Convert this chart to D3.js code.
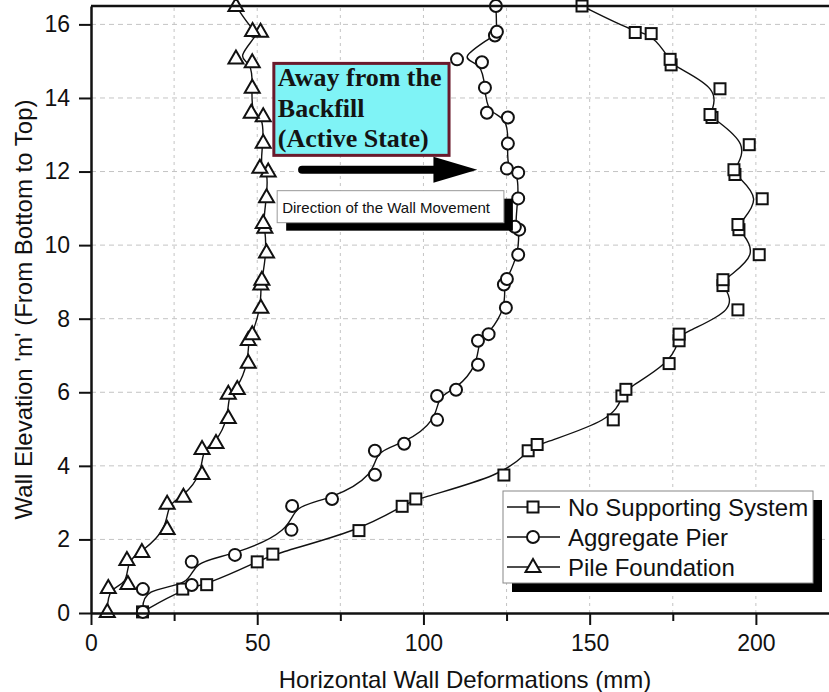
<!DOCTYPE html>
<html>
<head>
<meta charset="utf-8">
<script src="https://cdn.jsdelivr.net/npm/d3@7"></script>
<style>
  body { margin: 0; background: #fff; }
  svg { display: block; }
</style>
</head>
<body>
<div id="chart"></div>
<script>
// deformation (mm) and elevation (m) for each series
var noSupportX = [15.5, 27.6, 34.8, 50.0, 54.7, 80.6, 93.6, 97.7, 124.2, 131.5, 134.2, 157.1, 159.7, 160.9, 173.9, 176.9, 176.9, 194.6, 190.1, 190.1, 201.0, 194.9, 194.6, 201.9, 193.7, 193.4, 198.0, 186.8, 186.2, 189.2, 174.5, 174.2, 168.5, 163.7, 147.7];
var noSupportY = [0.03, 0.65, 0.77, 1.39, 1.6, 2.24, 2.9, 3.1, 3.75, 4.41, 4.58, 5.25, 5.9, 6.08, 6.78, 7.4, 7.58, 8.24, 8.9, 9.06, 9.74, 10.42, 10.56, 11.26, 11.92, 12.05, 12.73, 13.47, 13.55, 14.25, 14.9, 15.05, 15.75, 15.78, 16.5];

var pierX = [15.6, 15.6, 30.3, 30.3, 43.3, 60.3, 60.5, 72.5, 85.4, 85.4, 94.2, 104.1, 104.1, 109.8, 116.4, 116.4, 119.6, 124.8, 124.2, 125.1, 128.5, 128.8, 127.5, 128.5, 128.5, 125.1, 125.4, 125.4, 119.1, 118.5, 117.6, 110.1, 121.5, 122.1, 121.8];
var pierY = [0.03, 0.65, 0.76, 1.39, 1.58, 2.26, 2.91, 3.1, 3.76, 4.41, 4.6, 5.25, 5.9, 6.07, 6.75, 7.4, 7.58, 8.3, 8.93, 9.08, 9.74, 10.42, 10.5, 11.27, 11.97, 12.08, 12.76, 13.47, 13.6, 14.28, 14.97, 15.05, 15.7, 15.8, 16.5];

var pileX = [4.9, 5.2, 11.1, 10.8, 15.3, 22.9, 22.9, 27.8, 33.4, 33.4, 37.6, 41.3, 41.3, 44.0, 47.3, 47.3, 48.5, 51.1, 51.1, 51.4, 52.8, 52.3, 51.8, 52.8, 53.3, 50.8, 51.8, 51.8, 48.2, 48.5, 48.5, 43.6, 51.0, 48.6, 43.6];
var pileY = [0.03, 0.68, 0.79, 1.44, 1.66, 2.28, 2.97, 3.16, 3.78, 4.46, 4.62, 5.3, 5.96, 6.09, 6.8, 7.42, 7.58, 8.3, 8.93, 9.06, 9.8, 10.47, 10.6, 11.3, 12.0, 12.1, 12.78, 13.5, 13.6, 14.28, 14.97, 15.07, 15.8, 15.82, 16.5];

var seriesNames = ["No Supporting System", "Aggregate Pier", "Pile Foundation"];
var xTicks = [0, 50, 100, 150, 200];
var xMinorTicks = [25, 75, 125, 175, 225];
var yTicks = [0, 2, 4, 6, 8, 10, 12, 14, 16];

var W = 829, H = 692;
var margin = {left: 91, top: 6, right: -10, bottom: 79};
var sans = "Arial, 'Liberation Sans', sans-serif";

var svg = d3.select("#chart").append("svg")
    .attr("width", W)
    .attr("height", H);

var x = d3.scaleLinear().domain([0, 225]).range([margin.left, W - margin.right]);
var y = d3.scaleLinear().domain([0, 16.5]).range([H - margin.bottom, margin.top]);

// grid
svg.append("g").selectAll("line")
    .data(xMinorTicks.concat(xTicks).filter(function(d){ return d > 0 && d < 225; }))
    .enter().append("line")
    .attr("x1", function(d){ return x(d); })
    .attr("x2", function(d){ return x(d); })
    .attr("y1", y(0)).attr("y2", y(16.5))
    .attr("stroke", "#c4c4c4")
    .attr("stroke-width", 1)
    .attr("stroke-dasharray", "3,4");
svg.append("g").selectAll("line")
    .data(yTicks.filter(function(d){ return d > 0; }))
    .enter().append("line")
    .attr("x1", x(0)).attr("x2", x(225))
    .attr("y1", function(d){ return y(d); })
    .attr("y2", function(d){ return y(d); })
    .attr("stroke", "#c4c4c4")
    .attr("stroke-width", 1)
    .attr("stroke-dasharray", "5,4");

// series
var series = [
  {name: seriesNames[0], xs: noSupportX, ys: noSupportY, shape: "square"},
  {name: seriesNames[1], xs: pierX, ys: pierY, shape: "circle"},
  {name: seriesNames[2], xs: pileX, ys: pileY, shape: "triangle"}
];

var line = d3.line()
    .x(function(d){ return x(d[0]); })
    .y(function(d){ return y(d[1]); })
    .curve(d3.curveBasis);

function drawMarker(g, shape) {
  if (shape == "square") {
    g.append("rect").attr("x", -5.5).attr("y", -5.5).attr("width", 11).attr("height", 11);
  } else if (shape == "circle") {
    g.append("circle").attr("r", 6);
  } else {
    g.append("path").attr("d", "M0,-8 L7.5,5 L-7.5,5 Z");
  }
  g.selectAll("*")
    .attr("fill", "#fff")
    .attr("stroke", "#111")
    .attr("stroke-width", 2);
}

series.forEach(function(s){
  var pts = s.xs.map(function(v, i){ return [v, s.ys[i]]; });
  svg.append("path")
    .datum(pts)
    .attr("d", line)
    .attr("fill", "none")
    .attr("stroke", "#111")
    .attr("stroke-width", 1.4);
  svg.append("g").selectAll("g")
    .data(pts)
    .enter().append("g")
    .attr("transform", function(d){ return "translate(" + x(d[0]) + "," + y(d[1]) + ")"; })
    .each(function(){ drawMarker(d3.select(this), s.shape); });
});

// axes
var xAxis = svg.append("g")
    .attr("transform", "translate(0," + y(0) + ")")
    .call(d3.axisBottom(x).tickValues(xTicks).tickSize(12).tickPadding(10).tickSizeOuter(0));
svg.append("g")
    .attr("transform", "translate(0," + y(0) + ")")
    .call(d3.axisBottom(x).tickValues(xMinorTicks).tickSize(8).tickFormat("").tickSizeOuter(0))
    .select(".domain").remove();
var yAxis = svg.append("g")
    .attr("transform", "translate(" + x(0) + ",0)")
    .call(d3.axisLeft(y).tickValues(yTicks).tickSize(12).tickPadding(9).tickSizeOuter(0));

svg.selectAll(".domain").attr("stroke", "#111").attr("stroke-width", 2.5);
svg.selectAll(".tick line").attr("stroke", "#111").attr("stroke-width", 2);
svg.selectAll(".tick text").attr("font-family", sans).attr("font-size", 23).attr("fill", "#111");

// top frame
svg.append("line")
    .attr("x1", x(0)).attr("x2", x(225))
    .attr("y1", y(16.5)).attr("y2", y(16.5))
    .attr("stroke", "#111").attr("stroke-width", 2.5);

// axis titles
svg.append("text")
    .attr("x", (x(0) + x(225)) / 2)
    .attr("y", 688)
    .attr("text-anchor", "middle")
    .attr("font-family", sans).attr("font-size", 24).attr("fill", "#111")
    .text("Horizontal Wall Deformations (mm)");
svg.append("text")
    .attr("transform", "translate(32," + y(8.25) + ") rotate(-90)")
    .attr("text-anchor", "middle")
    .attr("font-family", sans).attr("font-size", 24).attr("fill", "#111")
    .text("Wall Elevation 'm' (From Bottom to Top)");

// annotation box
var bx = x(55), by = y(14.94), bw = x(107.7) - x(55), bh = y(12.44) - y(14.94);
svg.append("rect")
    .attr("x", bx).attr("y", by).attr("width", bw).attr("height", bh)
    .attr("fill", "#7ff3f6").attr("stroke", "#6a1a2c").attr("stroke-width", 3);
var noteLines = ["Away from the", "Backfill", "(Active State)"];
svg.append("g").selectAll("text")
    .data(noteLines)
    .enter().append("text")
    .attr("x", bx + 4)
    .attr("y", function(d, i){ return by + 23 + i * 30.5; })
    .attr("font-family", "'Times New Roman', 'Liberation Serif', serif")
    .attr("font-weight", "bold")
    .attr("font-size", 26)
    .attr("fill", "#141414")
    .text(function(d){ return d; });

// arrow
var ay = y(12.05);
svg.append("line")
    .attr("x1", x(63.5)).attr("x2", x(104))
    .attr("y1", ay).attr("y2", ay)
    .attr("stroke", "#000").attr("stroke-width", 8).attr("stroke-linecap", "round");
svg.append("path")
    .attr("d", "M" + x(103) + "," + (ay - 13) + " L" + x(116.2) + "," + ay + " L" + x(103) + "," + (ay + 13) + " Z")
    .attr("fill", "#000");

// direction label with shadow
var dx = x(56), dy = y(11.48), dw = x(124.2) - x(56), dh = y(10.61) - y(11.48);
svg.append("rect")
    .attr("x", dx + 9).attr("y", dy + 8).attr("width", dw).attr("height", dh)
    .attr("fill", "#000");
svg.append("rect")
    .attr("x", dx).attr("y", dy).attr("width", dw).attr("height", dh)
    .attr("fill", "#fff").attr("stroke", "#999").attr("stroke-width", 1);
svg.append("text")
    .attr("x", dx + 5).attr("y", dy + 22)
    .attr("font-family", sans).attr("font-size", 15).attr("fill", "#111")
    .text("Direction of the Wall Movement");

// legend
var lx = 503, ly = 491, lw = 310, lh = 92;
svg.append("rect")
    .attr("x", lx + 9).attr("y", ly + 9).attr("width", lw).attr("height", lh)
    .attr("fill", "#000");
svg.append("rect")
    .attr("x", lx).attr("y", ly).attr("width", lw).attr("height", lh)
    .attr("fill", "#fff").attr("stroke", "#888").attr("stroke-width", 1);
var leg = svg.append("g").selectAll("g")
    .data(series)
    .enter().append("g")
    .attr("transform", function(d, i){ return "translate(" + lx + "," + (ly + 16 + i * 30) + ")"; });
leg.append("line")
    .attr("x1", 4).attr("x2", 57)
    .attr("stroke", "#111").attr("stroke-width", 1.4);
leg.append("g")
    .attr("transform", "translate(30,0)")
    .each(function(d){ drawMarker(d3.select(this), d.shape); });
leg.append("text")
    .attr("x", 65).attr("y", 8.5)
    .attr("font-family", sans).attr("font-size", 24).attr("fill", "#111")
    .text(function(d){ return d.name; });
</script>
</body>
</html>
